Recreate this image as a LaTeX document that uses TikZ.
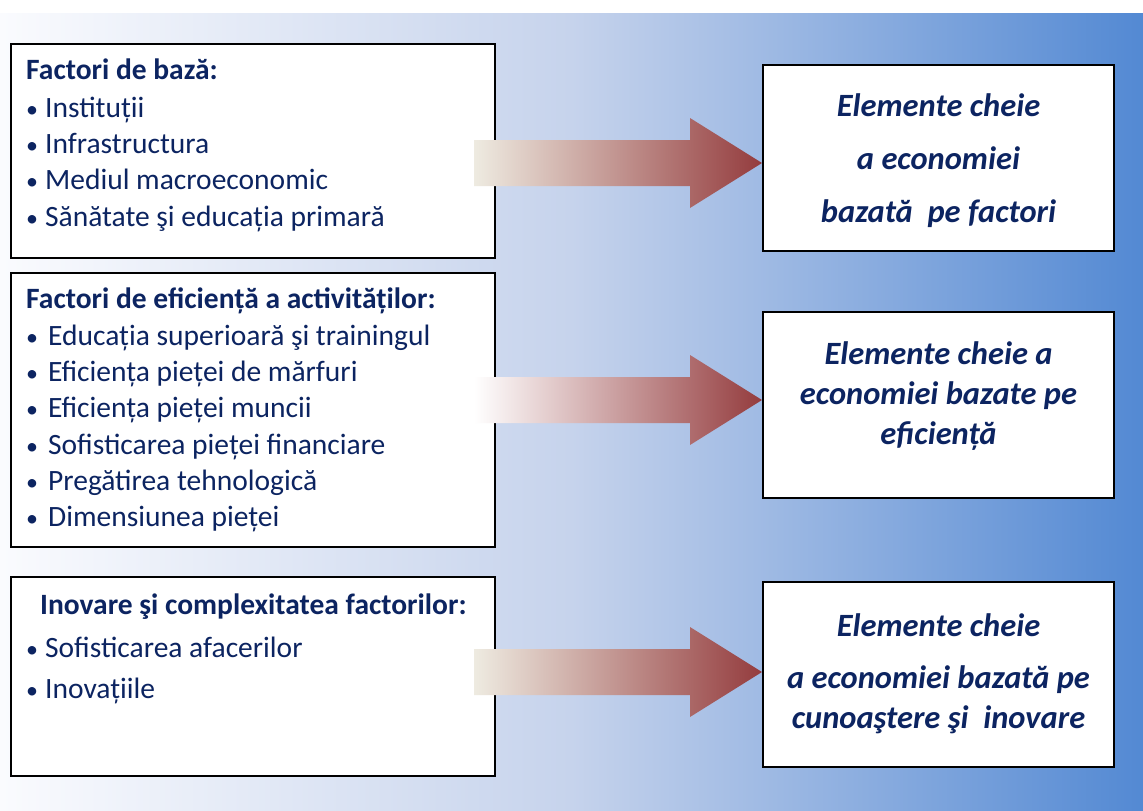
\documentclass[tikz,border=0pt]{standalone}
\usepackage{fontspec}
\setmainfont{Carlito}
\usetikzlibrary{positioning,calc}

\definecolor{navytext}{RGB}{12,36,97}
\definecolor{bgleft}{RGB}{250,251,254}
\definecolor{bgmid}{RGB}{198,211,236}
\definecolor{bgright}{RGB}{83,137,211}
\definecolor{arrowred}{RGB}{148,60,62}
\definecolor{arrowcream}{RGB}{238,235,225}

\pgfdeclarehorizontalshading{slideback}{100bp}{color(0bp)=(bgleft); color(25bp)=(bgleft);
  color(50bp)=(bgmid); color(75bp)=(bgright); color(100bp)=(bgright)}

\tikzset{
  leftbox/.style={draw=black, line width=2pt, fill=white, minimum width=484},
  rightbox/.style={draw=black, line width=2pt, fill=white, minimum width=351},
  listtext/.style={anchor=north west, inner sep=0, align=left, text=navytext,
    font=\fontsize{29.5}{36.3}\selectfont},
  keytext/.style={inner sep=0, align=center, text=navytext,
    font=\fontsize{32.5}{40}\selectfont\bfseries\itshape}
}

% tail, tip, colour at the tail
\newcommand{\bigarrow}[3]{%
  \path[left color=#3, right color=arrowred]
    let \p1=(#1), \p2=(#2) in
    (\x1,\y2+23pt) -- (\x2-72pt,\y2+23pt) -- (\x2-72pt,\y2+45pt) -- (\p2)
    -- (\x2-72pt,\y2-45pt) -- (\x2-72pt,\y2-23pt) -- (\x1,\y2-23pt) -- cycle;}
\newcommand{\dotitem}{{\fontsize{24}{24}\selectfont•}\hspace{7pt}}

\begin{document}
\begin{tikzpicture}[x=1pt, y=-1pt]
  \useasboundingbox (0,0) rectangle (1143,811);
  \fill[white] (0,0) rectangle (1143,13);
  \fill[shading=slideback] (0,13) rectangle (1143,811);

  % left boxes
  \node[leftbox, minimum height=214] (l1) at (253,151) {};
  \node[leftbox, minimum height=274] (l2) at (253,410) {};
  \node[leftbox, minimum height=199] (l3) at (253,676.5) {};

  \node[listtext] (t1) at ([shift={(16,16)}]l1.north west)
    {\textbf{Factori de bază:}\\[1pt]
     \dotitem Instituții\\
     \dotitem Infrastructura\\
     \dotitem Mediul macroeconomic\\
     \dotitem Sănătate şi educația primară};
  \node[listtext] (t2) at ([shift={(16,16)}]l2.north west)
    {\textbf{Factori de eficiență a activităților:}\\
     \dotitem\hspace{3pt}Educația superioară şi trainingul\\
     \dotitem\hspace{3pt}Eficiența pieței de mărfuri\\
     \dotitem\hspace{3pt}Eficiența pieței muncii\\
     \dotitem\hspace{3pt}Sofisticarea pieței financiare\\
     \dotitem\hspace{3pt}Pregătirea tehnologică\\
     \dotitem\hspace{3pt}Dimensiunea pieței};
  \node[listtext] (t3) at ([shift={(16,18)}]l3.north west)
    {\hspace*{14pt}\textbf{Inovare şi complexitatea factorilor:}\\[6pt]
     \dotitem Sofisticarea afacerilor\\[5pt]
     \dotitem Inovațiile};

  % right boxes
  \node[rightbox, minimum height=186] (r1) at (938.5,158) {};
  \node[rightbox, minimum height=186] (r2) at (938.5,405) {};
  \node[rightbox, minimum height=185] (r3) at (938.5,674.5) {};

  \node[keytext] (k1) at ([yshift=-3pt]r1.center) {Elemente cheie\\[13pt] a economiei\\[13pt] bazată~ pe factori};
  \node[keytext] (k2) at ([yshift=9pt]r2.center) {Elemente cheie a\\ economiei bazate pe\\ eficiență};
  \node[keytext] (k3) at ([yshift=1pt]r3.center) {Elemente cheie\\[12pt] a economiei bazată pe\\ cunoaştere şi~ inovare};

  % arrows
  \coordinate (a1) at ([xshift=-22pt]l1.east);
  \coordinate (a2) at ([xshift=-22pt]l2.east);
  \coordinate (a3) at ([xshift=-22pt]l3.east);
  \coordinate (p1) at ([yshift=-5pt]r1.west);
  \coordinate (p2) at ([yshift=5pt]r2.west);
  \coordinate (p3) at ([yshift=2.5pt]r3.west);
  \bigarrow{a1}{p1}{arrowcream}
  \bigarrow{a2}{p2}{white}
  \bigarrow{a3}{p3}{arrowcream}
\end{tikzpicture}
\end{document}
